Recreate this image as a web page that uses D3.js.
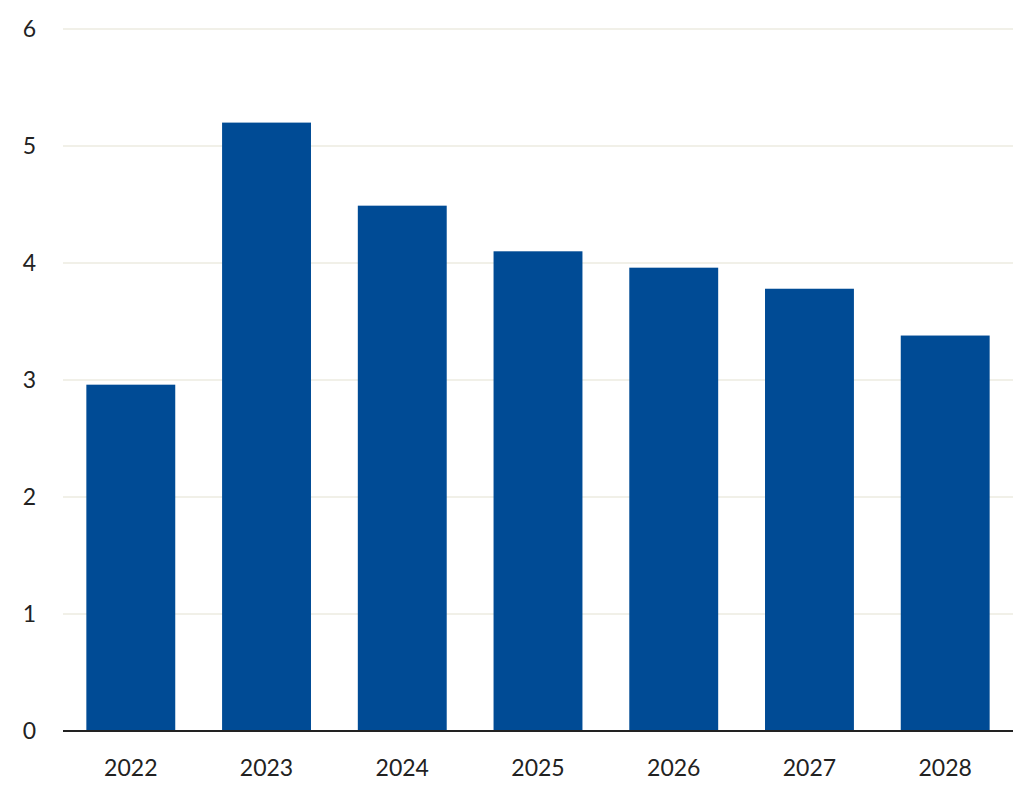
<!DOCTYPE html>
<html>
<head>
<meta charset="utf-8">
<script src="https://cdn.jsdelivr.net/npm/d3@7"></script>
<style>
  body { margin: 0; background: #fff; }
  .tick text { font-family: Lato, "Open Sans", sans-serif; fill: #222; }
</style>
</head>
<body>
<div id="chart"></div>
<script>
const years = ["2022", "2023", "2024", "2025", "2026", "2027", "2028"];
const values = [2.96, 5.2, 4.49, 4.1, 3.96, 3.78, 3.38];
const yTicks = [0, 1, 2, 3, 4, 5, 6];

const width = 1019, height = 800;
const margin = { top: 29, right: 6, bottom: 69, left: 63 };

const svg = d3.select("#chart").append("svg")
    .attr("width", width)
    .attr("height", height);

const x = d3.scaleBand()
    .domain(years)
    .range([margin.left, width - margin.right])
    .paddingInner(0.345)
    .paddingOuter(0.172);

const y = d3.scaleLinear()
    .domain([0, 6])
    .range([height - margin.bottom, margin.top]);

// gridlines
svg.append("g")
    .selectAll("line")
    .data(yTicks.slice(1))
    .enter().append("line")
    .attr("x1", margin.left)
    .attr("x2", width - margin.right)
    .attr("y1", d => y(d))
    .attr("y2", d => y(d))
    .attr("stroke", "#ecebe0")
    .attr("stroke-width", 1.5);

// bars
svg.append("g")
    .selectAll("rect")
    .data(values)
    .enter().append("rect")
    .attr("x", (d, i) => x(years[i]))
    .attr("y", d => y(d))
    .attr("width", x.bandwidth())
    .attr("height", d => y(0) - y(d))
    .attr("fill", "#004b95");

// y axis labels
const yAxis = svg.append("g")
    .attr("transform", `translate(${margin.left},0)`)
    .call(d3.axisLeft(y).tickValues(yTicks).tickFormat(d3.format("d")).tickSize(0).tickPadding(27));
yAxis.select(".domain").remove();
yAxis.selectAll("text").style("font-size", "23px");

// x axis
const xAxis = svg.append("g")
    .attr("transform", `translate(0,${y(0)})`)
    .call(d3.axisBottom(x).tickSize(0).tickPadding(29));
xAxis.select(".domain")
    .attr("d", `M${margin.left},0H${width - margin.right}`)
    .attr("stroke", "#222")
    .attr("stroke-width", 2);
xAxis.selectAll("text").style("font-size", "23px");
</script>
</body>
</html>
